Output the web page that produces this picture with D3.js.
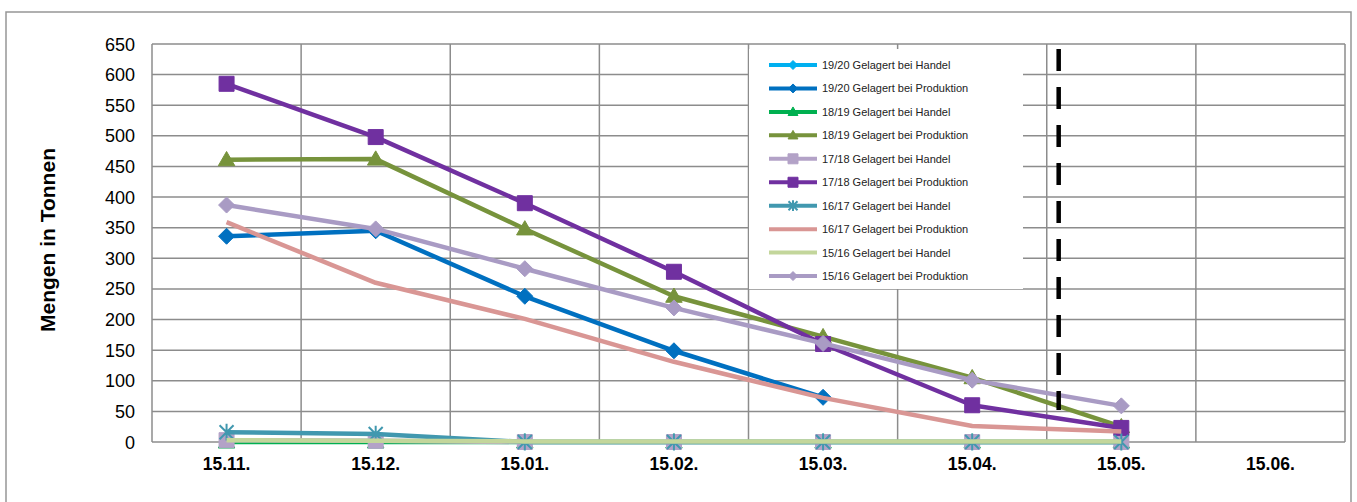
<!DOCTYPE html>
<html>
<head>
<meta charset="utf-8">
<script src="https://cdn.jsdelivr.net/npm/d3@7"></script>
<style>
  body { margin: 0; background: #fff; }
  svg { display: block; font-family: 'Liberation Sans', Arial, sans-serif; }
</style>
</head>
<body>
<svg id="chart" width="1357" height="502"></svg>
<script>
const categories = ['15.11.', '15.12.', '15.01.', '15.02.', '15.03.', '15.04.', '15.05.', '15.06.'];
const yTicks = d3.range(0, 651, 50);

// one array per series, same order as the legend (and drawing order)
const s1920Handel = [null, null, null, null, null, null, null, null];
const s1920Prod = [336, 345, 238, 149, 73, null, null, null];
const s1819Handel = [0, 0, 0, 0, 0, 0, 0, null];
const s1819Prod = [461, 462, 348, 238, 172, 105, 25, null];
const s1718Handel = [3, 2, 0, 0, 0, 0, 0, null];
const s1718Prod = [585, 498, 390, 278, 160, 60, 23, null];
const s1617Handel = [16, 13, 0, 0, 0, 0, 0, null];
const s1617Prod = [359, 260, 201, 131, 72, 26, 17, null];
const s1516Handel = [3, 2, 1, 1, 1, 1, 1, null];
const s1516Prod = [387, 348, 283, 219, 161, 101, 59, null];

// dashed marker between 15.04. and 15.05. (category index)
const todayIndex = 5.58;

const series = [
  { name: '19/20 Gelagert bei Handel', values: s1920Handel, color: '#00B0F0', marker: 'diamond' },
  { name: '19/20 Gelagert bei Produktion', values: s1920Prod, color: '#0070C0', marker: 'diamond' },
  { name: '18/19 Gelagert bei Handel', values: s1819Handel, color: '#00B050', marker: 'triangle' },
  { name: '18/19 Gelagert bei Produktion', values: s1819Prod, color: '#77933C', marker: 'triangle' },
  { name: '17/18 Gelagert bei Handel', values: s1718Handel, color: '#B3A2C7', marker: 'square' },
  { name: '17/18 Gelagert bei Produktion', values: s1718Prod, color: '#7030A0', marker: 'square' },
  { name: '16/17 Gelagert bei Handel', values: s1617Handel, color: '#4198AF', marker: 'star' },
  { name: '16/17 Gelagert bei Produktion', values: s1617Prod, color: '#D99694', marker: null },
  { name: '15/16 Gelagert bei Handel', values: s1516Handel, color: '#C3D69B', marker: null },
  { name: '15/16 Gelagert bei Produktion', values: s1516Prod, color: '#A99BC4', marker: 'diamond' }
];

const plot = { left: 152, right: 1345, top: 44, bottom: 442 };
const grid = '#8c8c8c';

const svg = d3.select('#chart');

// outer chart frame
svg.append('rect')
  .attr('x', 6).attr('y', 12)
  .attr('width', 1345).attr('height', 520)
  .attr('fill', 'none')
  .attr('stroke', '#969696')
  .attr('stroke-width', 1.5);

const x = d3.scaleBand().domain(categories).range([plot.left, plot.right]).padding(0);
const y = d3.scaleLinear().domain([0, 650]).range([plot.bottom, plot.top]);
const xi = d3.scaleLinear()
  .domain([0, categories.length - 1])
  .range([x(categories[0]) + x.bandwidth() / 2, x(categories[categories.length - 1]) + x.bandwidth() / 2]);

// horizontal gridlines
svg.append('g')
  .selectAll('line')
  .data(yTicks)
  .enter().append('line')
  .attr('x1', plot.left).attr('x2', plot.right)
  .attr('y1', d => y(d)).attr('y2', d => y(d))
  .attr('stroke', grid)
  .attr('stroke-width', 1.5);

// vertical gridlines at category boundaries
svg.append('g')
  .selectAll('line')
  .data(categories.concat(['end']))
  .enter().append('line')
  .attr('x1', (d, i) => plot.left + i * x.step())
  .attr('x2', (d, i) => plot.left + i * x.step())
  .attr('y1', plot.top).attr('y2', plot.bottom)
  .attr('stroke', grid)
  .attr('stroke-width', 1.5);

// y tick labels
svg.append('g')
  .selectAll('text')
  .data(yTicks)
  .enter().append('text')
  .attr('x', 135)
  .attr('y', d => y(d) + 6.5)
  .attr('text-anchor', 'end')
  .style('font-size', '18px')
  .style('fill', '#000')
  .text(d => d);

// x tick labels
svg.append('g')
  .selectAll('text')
  .data(categories)
  .enter().append('text')
  .attr('x', d => x(d) + x.bandwidth() / 2)
  .attr('y', 470)
  .attr('text-anchor', 'middle')
  .style('font-size', '17.5px')
  .style('font-weight', 'bold')
  .style('fill', '#000')
  .text(d => d);

// y axis title
svg.append('text')
  .attr('transform', 'translate(55,240) rotate(-90)')
  .attr('text-anchor', 'middle')
  .style('font-size', '21px')
  .style('font-weight', 'bold')
  .style('fill', '#000')
  .text('Mengen in Tonnen');

function markerPath(type, s) {
  if (type === 'diamond') return `M0,${-s}L${s},0L0,${s}L${-s},0Z`;
  if (type === 'square') return `M${-s},${-s}H${s}V${s}H${-s}Z`;
  if (type === 'triangle') return `M0,${-s * 1.1}L${s * 1.1},${s * 0.8}L${-s * 1.1},${s * 0.8}Z`;
  if (type === 'star') return `M${-s},${-s}L${s},${s}M${-s},${s}L${s},${-s}M0,${-s * 1.2}V${s * 1.2}`;
  return '';
}

function drawMarker(g, type, color, s) {
  if (!type) return;
  const p = g.append('path').attr('d', markerPath(type, s));
  if (type === 'star') {
    p.attr('fill', 'none').attr('stroke', color).attr('stroke-width', 2);
  } else {
    p.attr('fill', color).attr('stroke', color).attr('stroke-width', 1);
  }
}

const line = d3.line()
  .defined(d => d.v !== null)
  .x(d => xi(d.i))
  .y(d => y(d.v));

const markerSize = { diamond: 8, square: 7.5, triangle: 7.5, star: 7 };

series.forEach(s => {
  const pts = s.values.map((v, i) => ({ i, v }));
  const g = svg.append('g');
  g.append('path')
    .attr('d', line(pts))
    .attr('fill', 'none')
    .attr('stroke', s.color)
    .attr('stroke-width', 4.5)
    .attr('stroke-linejoin', 'round');
  pts.filter(d => d.v !== null).forEach(d => {
    const m = g.append('g').attr('transform', `translate(${xi(d.i)},${y(d.v)})`);
    drawMarker(m, s.marker, s.color, markerSize[s.marker]);
  });
});

// dashed vertical marker
svg.append('line')
  .attr('x1', xi(todayIndex)).attr('x2', xi(todayIndex))
  .attr('y1', 49).attr('y2', 410)
  .attr('stroke', '#000')
  .attr('stroke-width', 4.5)
  .attr('stroke-dasharray', '22,16');

// legend
const legend = svg.append('g');
legend.append('rect')
  .attr('x', 749).attr('y', 49)
  .attr('width', 274).attr('height', 240)
  .attr('fill', '#fff');

const items = legend.selectAll('.item')
  .data(series)
  .enter().append('g')
  .attr('class', 'item')
  .attr('transform', (d, i) => `translate(0,${65 + i * 23.45})`);

items.append('line')
  .attr('x1', 769).attr('x2', 817)
  .attr('y1', 0).attr('y2', 0)
  .attr('stroke', d => d.color)
  .attr('stroke-width', 4);

items.each(function(d) {
  const m = d3.select(this).append('g').attr('transform', 'translate(793,0)');
  drawMarker(m, d.marker, d.color, d.marker === 'square' ? 5 : 4.5);
});

items.append('text')
  .attr('x', 822)
  .attr('y', 4)
  .style('font-size', '11px')
  .style('fill', '#222')
  .text(d => d.name);
</script>
</body>
</html>
